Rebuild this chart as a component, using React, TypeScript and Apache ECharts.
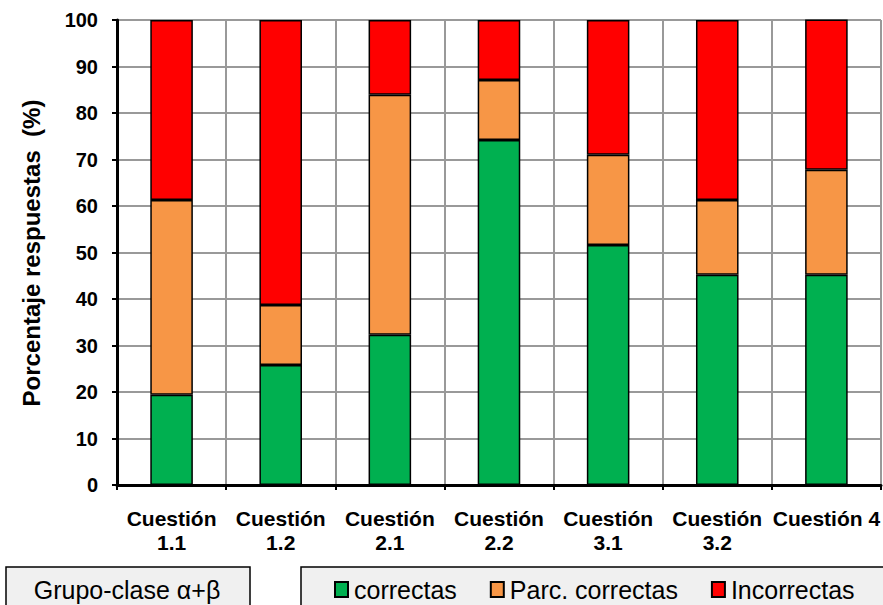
import React, { useEffect, useRef } from "react";
import * as echarts from "echarts";

const categories = ["Cuestión\n1.1", "Cuestión\n1.2", "Cuestión\n2.1", "Cuestión\n2.2", "Cuestión\n3.1", "Cuestión\n3.2", "Cuestión 4"];
const correctas = [19.4, 25.8, 32.3, 74.2, 51.6, 45.2, 45.2];
const parcCorrectas = [41.9, 12.9, 51.6, 12.9, 19.4, 16.1, 22.6];
const incorrectas = [38.7, 61.3, 16.1, 12.9, 29.0, 38.7, 32.3];
const seriesNames = ["correctas", "Parc. correctas", "Incorrectas"];
const groupLabel = "Grupo-clase α+β";
const yAxisTitle = "Porcentaje respuestas  (%)";

const colors = ["#00B050", "#F79646", "#FF0000"];
const font = "Arial, 'Liberation Sans', sans-serif";

export default function App() {
  const ref = useRef<HTMLDivElement>(null);
  useEffect(() => {
    if (!ref.current) return;
    const chart = echarts.init(ref.current, null, { renderer: "svg" });
    const values = [correctas, parcCorrectas, incorrectas];
    chart.setOption({
      animation: false,
      grid: { left: 117, right: 1, top: 20, bottom: 120 },
      legend: {
        left: 329,
        top: 572,
        itemWidth: 13,
        itemHeight: 15,
        itemGap: 33,
        icon: "rect",
        textStyle: { fontFamily: font, fontSize: 25, color: "#000", padding: [0, 0, 0, 1] },
        data: seriesNames,
      },
      xAxis: {
        type: "category",
        data: categories,
        axisLine: { lineStyle: { color: "#000", width: 3 } },
        axisTick: { show: true, length: 5, lineStyle: { color: "#000", width: 2 } },
        splitLine: { show: true, lineStyle: { color: "#999", width: 2 } },
        axisLabel: {
          margin: 21,
          fontFamily: font,
          fontWeight: "bold",
          fontSize: 21,
          lineHeight: 24,
          color: "#000",
          interval: 0,
        },
      },
      yAxis: {
        type: "value",
        min: 0,
        max: 100,
        interval: 10,
        axisLine: { show: true, lineStyle: { color: "#000", width: 3 } },
        axisTick: { show: true, length: 5, lineStyle: { color: "#000", width: 2 } },
        splitLine: { show: true, lineStyle: { color: "#999", width: 2 } },
        axisLabel: {
          margin: 19,
          fontFamily: font,
          fontWeight: "bold",
          fontSize: 20,
          color: "#000",
        },
      },
      series: seriesNames.map((name, i) => ({
        name,
        type: "bar",
        stack: "total",
        barWidth: "39%",
        data: values[i],
        itemStyle: { color: colors[i], borderColor: "#000", borderWidth: 1.5 },
      })),
      graphic: [
        {
          type: "text",
          x: 31,
          y: 253,
          rotation: Math.PI / 2,
          style: {
            text: yAxisTitle,
            fontFamily: font,
            fontWeight: "bold",
            fontSize: 24,
            fill: "#000",
            align: "center",
            verticalAlign: "middle",
          },
        },
        {
          type: "rect",
          z: -1,
          shape: { x: 6, y: 567, width: 244, height: 60 },
          style: { fill: "#F0F0F0", stroke: "#000", lineWidth: 1.5 },
        },
        {
          type: "text",
          x: 127,
          y: 590,
          style: {
            text: groupLabel,
            fontFamily: font,
            fontSize: 25,
            fill: "#000",
            align: "center",
            verticalAlign: "middle",
          },
        },
        {
          type: "rect",
          z: -1,
          shape: { x: 301, y: 567, width: 620, height: 60 },
          style: { fill: "#F0F0F0", stroke: "#000", lineWidth: 1.5 },
        },
      ],
    });
    return () => chart.dispose();
  }, []);
  return (
    <div
      ref={ref}
      style={{ position: "fixed", left: 0, top: 0, width: 883, height: 605, background: "#fff" }}
    />
  );
}
